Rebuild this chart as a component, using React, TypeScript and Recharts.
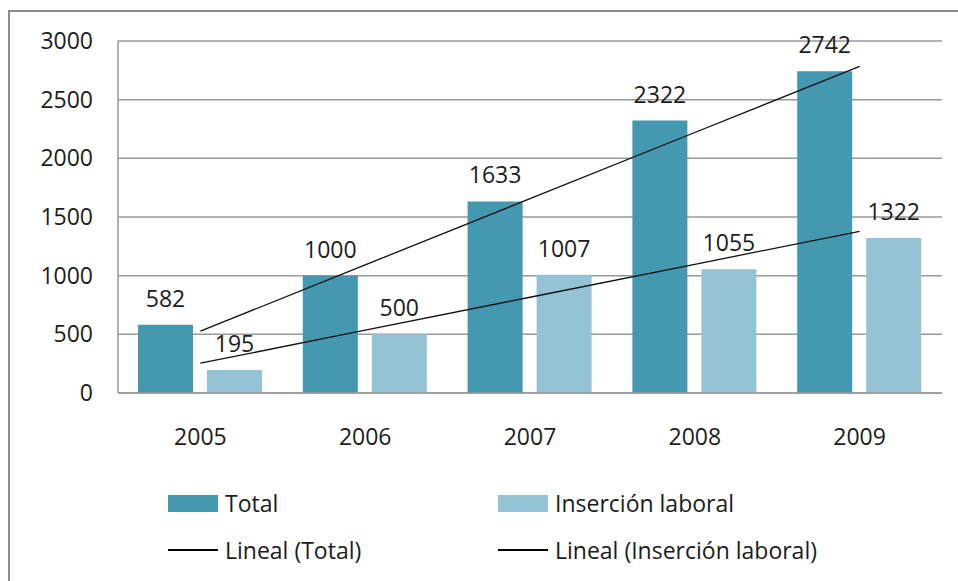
import {
  ComposedChart,
  Bar,
  Line,
  XAxis,
  YAxis,
  CartesianGrid,
  Legend,
  LabelList,
} from "recharts";

const years = ["2005", "2006", "2007", "2008", "2009"];
const total = [582, 1000, 1633, 2322, 2742];
const insercion = [195, 500, 1007, 1055, 1322];
// tendencias lineales
const linealTotal = [527, 1092, 1656, 2220, 2784];
const linealInsercion = [254, 535, 816, 1097, 1378];
const yTicks = [0, 500, 1000, 1500, 2000, 2500, 3000];

const data = years.map((y, i) => ({
  year: y,
  total: total[i],
  insercion: insercion[i],
  linealTotal: linealTotal[i],
  linealInsercion: linealInsercion[i],
}));

const FONT = "'Open Sans', sans-serif";
const OSCURO = "#4499b0";
const CLARO = "#93c3d5";
const TEXTO = "#1c1c1c";

const Leyenda = () => {
  const item = (x: number, y: number, tipo: "bar" | "line", color: string, texto: string) => (
    <div
      key={texto}
      style={{
        position: "absolute",
        left: x,
        top: y,
        display: "flex",
        alignItems: "center",
        height: 30,
      }}
    >
      {tipo === "bar" ? (
        <div style={{ width: 50, height: 17, background: color }} />
      ) : (
        <div style={{ width: 50, height: 1.3, background: color }} />
      )}
      <span style={{ marginLeft: 7, fontSize: 23, color: TEXTO, fontFamily: FONT }}>{texto}</span>
    </div>
  );
  return (
    <div style={{ position: "relative", width: 958, height: 118 }}>
      {item(168, 25, "bar", OSCURO, "Total")}
      {item(498, 25, "bar", CLARO, "Inserción laboral")}
      {item(168, 72, "line", "#000", "Lineal (Total)")}
      {item(498, 72, "line", "#000", "Lineal (Inserción laboral)")}
    </div>
  );
};

export default function App() {
  return (
    <div
      style={{
        position: "fixed",
        left: 0,
        top: 0,
        width: 958,
        height: 581,
        overflow: "hidden",
        background: "#fff",
      }}
    >
      <div
        style={{
          position: "absolute",
          left: 8,
          top: 10,
          width: 1000,
          height: 700,
          border: "2px solid #8c8c8c",
        }}
      />
      <div style={{ position: "absolute", left: 0, top: 0 }}>
        <ComposedChart
          width={958}
          height={581}
          data={data}
          margin={{ top: 41, right: 16, left: 18, bottom: 0 }}
          barCategoryGap="12%"
          barGap={14}
        >
          <CartesianGrid vertical={false} stroke="#9a9a9a" strokeWidth={1.5} />
          <XAxis
            dataKey="year"
            height={70}
            tickSize={0}
            tickMargin={36}
            axisLine={{ stroke: "#9a9a9a", strokeWidth: 1.5 }}
            tick={{ fontSize: 23, fill: TEXTO, fontFamily: FONT }}
          />
          <YAxis
            width={100}
            domain={[0, 3000]}
            ticks={yTicks}
            tickSize={0}
            tickMargin={25}
            axisLine={{ stroke: "#9a9a9a", strokeWidth: 1.5 }}
            tick={{ fontSize: 23, fill: TEXTO, fontFamily: FONT }}
          />
          <Legend
            verticalAlign="bottom"
            height={118}
            wrapperStyle={{ left: 0, bottom: 0, width: 958, height: 118 }}
            content={<Leyenda />}
          />
          <Bar dataKey="total" name="Total" fill={OSCURO} barSize={55} isAnimationActive={false}>
            <LabelList
              dataKey="total"
              position="top"
              offset={18}
              style={{ fontSize: 23, fill: TEXTO, fontFamily: FONT }}
            />
          </Bar>
          <Bar dataKey="insercion" name="Inserción laboral" fill={CLARO} barSize={55} isAnimationActive={false}>
            <LabelList
              dataKey="insercion"
              position="top"
              offset={18}
              style={{ fontSize: 23, fill: TEXTO, fontFamily: FONT }}
            />
          </Bar>
          <Line
            dataKey="linealTotal"
            name="Lineal (Total)"
            stroke="#111"
            strokeWidth={1.3}
            dot={false}
            activeDot={false}
            isAnimationActive={false}
          />
          <Line
            dataKey="linealInsercion"
            name="Lineal (Inserción laboral)"
            stroke="#111"
            strokeWidth={1.3}
            dot={false}
            activeDot={false}
            isAnimationActive={false}
          />
        </ComposedChart>
      </div>
    </div>
  );
}
